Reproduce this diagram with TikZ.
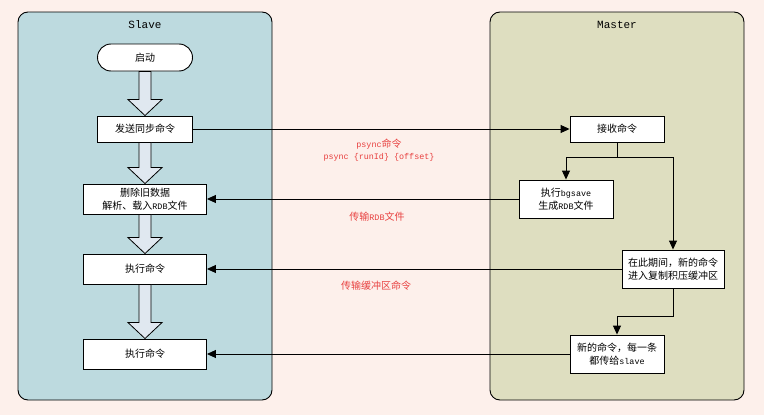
\documentclass[tikz,border=0pt]{standalone}
\usepackage{fontspec}
\setmainfont{Noto Sans CJK SC}
\newfontfamily\titlefont{Liberation Mono}
\newfontfamily\lt{Liberation Mono}[Scale=0.84]
\usetikzlibrary{arrows.meta,calc}
\definecolor{bgc}{HTML}{FDF0EB}
\definecolor{slavec}{HTML}{BDDADF}
\definecolor{masterc}{HTML}{DEDEC0}
\definecolor{redc}{HTML}{E8403F}
\definecolor{arrowc}{HTML}{E0E8F0}
\tikzset{
  lane/.style={draw=black, line width=0.9pt, rounded corners=10pt},
  box/.style={draw=black, fill=white, line width=0.9pt, inner sep=0pt, align=center,
    font=\fontsize{10}{13}\selectfont},
  term/.style={box, rounded corners=13.5pt},
  conn/.style={draw=black, line width=0.9pt},
  arr/.style={conn, -{Triangle[length=9pt,width=8pt]}},
  lbl/.style={text=redc, align=center, font=\fontsize{10}{12.5}\selectfont},
  ttl/.style={font=\titlefont\fontsize{11}{13}\selectfont},
  barrow/.style={draw=black, line width=0.8pt, fill=arrowc}
}
\newcommand\blockarrow[2]{%
  \draw[barrow] ($(#1.south)+(-6,0)$) -- ($(#2.north)+(-6,-16)$) -- ($(#2.north)+(-17,-16)$)
    -- (#2.north) -- ($(#2.north)+(17,-16)$) -- ($(#2.north)+(6,-16)$) -- ($(#1.south)+(6,0)$) -- cycle;}
\begin{document}
\begin{tikzpicture}[x=1pt, y=-1pt]
\fill[bgc] (0,0) rectangle (764,415);
\useasboundingbox (0,0) rectangle (764,415);
% lanes
\draw[lane, fill=slavec] (18,12) rectangle (272,400);
\draw[lane, fill=masterc] (490,12) rectangle (744,400);
\node[ttl] (tslave) at (145,25) {Slave};
\node[ttl] (tmaster) at (617,25) {Master};
% slave nodes
\node[term, minimum width=95pt, minimum height=27pt] (start) at (145,57.5) {启动};
\node[box, minimum width=95pt, minimum height=26pt] (sync) at (145,129) {发送同步命令};
\node[box, minimum width=123pt, minimum height=30pt] (del) at (145,199) {删除旧数据\\解析、载入{\lt RDB}文件};
\node[box, minimum width=123pt, minimum height=30pt] (exec1) at (145,269) {执行命令};
\node[box, minimum width=123pt, minimum height=30pt] (exec2) at (145,354) {执行命令};
% master nodes
\node[box, minimum width=94pt, minimum height=26pt] (recv) at (617,129) {接收命令};
\node[box, minimum width=94pt, minimum height=38pt] (bgsave) at (566,199) {执行{\lt bgsave}\\生成{\lt RDB}文件};
\node[box, minimum width=102pt, minimum height=38pt] (buffer) at (673,269) {在此期间，新的命令\\进入复制积压缓冲区};
\node[box, minimum width=94pt, minimum height=38pt] (newcmd) at (617,354) {新的命令，每一条\\都传给{\lt slave}};
% block arrows
\blockarrow{start}{sync}
\blockarrow{sync}{del}
\blockarrow{del}{exec1}
\blockarrow{exec1}{exec2}
% master connectors
\coordinate (split) at (617,157);
\draw[conn] (recv.south) -- (split);
\draw[arr] (split) -| (bgsave.north);
\draw[arr] (split) -| (buffer.north);
\draw[arr] (buffer.south) -- ++(0,28) -| (newcmd.north);
% cross connectors
\draw[arr] (sync.east) -- (recv.west);
\draw[arr] (bgsave.west) -- (del.east);
\draw[arr] (buffer.west) -- (exec1.east);
\draw[arr] (newcmd.west) -- (exec2.east);
% labels
\node[lbl] (l1) at (379,150) {{\lt psync}命令\\{\lt psync \{runId\} \{offset\}}};
\node[lbl] (l2) at (377,217) {传输{\lt RDB}文件};
\node[lbl] (l3) at (376,286) {传输缓冲区命令};
\end{tikzpicture}
\end{document}
